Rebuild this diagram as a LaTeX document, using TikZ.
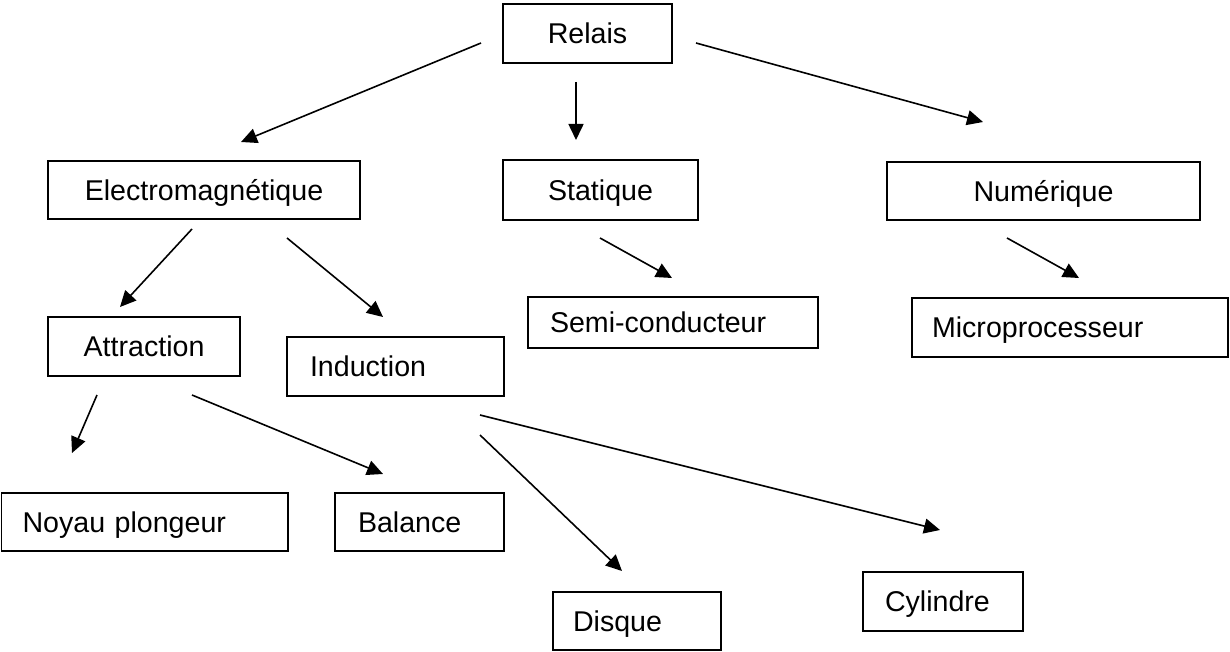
\documentclass[tikz,border=0pt]{standalone}
\usepackage{fontspec}
\setmainfont{Liberation Sans}
\usetikzlibrary{arrows.meta}
\begin{document}
\begin{tikzpicture}[x=1pt,y=-1pt,
  box/.style={draw, line width=1.8pt, inner ysep=0pt, inner xsep=0pt,
    text height=20.5pt, text depth=0pt, align=center,
    font=\fontsize{28.6}{34}\selectfont},
  lbox/.style={box, align=left},
  arr/.style={line width=1.6pt, -{Triangle[length=16pt,width=15pt]}}]
\useasboundingbox (0,0) rectangle (1230,652);

% boxes
\node[box, minimum width=169pt, minimum height=59pt] (relais) at (587.5,33.5) {Relais};
\node[box, minimum width=312pt, minimum height=58pt] (electro) at (204,190) {Electromagnétique};
\node[box, minimum width=195pt, minimum height=60pt] (statique) at (600.5,190) {Statique};
\node[box, minimum width=313pt, minimum height=58pt] (numerique) at (1043.5,191) {Numérique};
\node[box, minimum width=192pt, minimum height=59pt] (attraction) at (144,346.5) {Attraction};
\node[lbox, minimum width=217pt, minimum height=59pt, inner xsep=23pt, text width=171pt] (induction) at (395.5,366.5) {Induction};
\node[lbox, minimum width=290pt, minimum height=51pt, inner xsep=22pt, text width=246pt] (semi) at (673,322.5) {Semi-conducteur};
\node[lbox, minimum width=316pt, minimum height=59pt, inner xsep=20pt, text width=276pt] (micro) at (1070,327.5) {Microprocesseur};
\node[lbox, minimum width=286.5pt, minimum height=58pt, inner xsep=21pt, text width=244.5pt] (noyau) at (144.75,522) {Noyau plongeur};
\node[lbox, minimum width=169pt, minimum height=58pt, inner xsep=23pt, text width=123pt] (balance) at (419.5,522) {Balance};
\node[lbox, minimum width=168pt, minimum height=58pt, inner xsep=20pt, text width=128pt] (disque) at (637,621) {Disque};
\node[lbox, minimum width=160pt, minimum height=59pt, inner xsep=22pt, text width=116pt] (cylindre) at (943,601.5) {Cylindre};

% arrow end points
\coordinate (rl1) at (481,43);   \coordinate (rl2) at (241,142);
\coordinate (rd1) at (576,82);   \coordinate (rd2) at (576,140);
\coordinate (rr1) at (696,43);   \coordinate (rr2) at (983,122);
\coordinate (ea1) at (192,229);  \coordinate (ea2) at (120,307);
\coordinate (ei1) at (287,238);  \coordinate (ei2) at (383,317);
\coordinate (ss1) at (600,238);  \coordinate (ss2) at (672,278);
\coordinate (nm1) at (1007,238); \coordinate (nm2) at (1079,278);
\coordinate (an1) at (97,395);   \coordinate (an2) at (72,453);
\coordinate (ab1) at (192,395);  \coordinate (ab2) at (383,474);
\coordinate (ic1) at (480,415);  \coordinate (ic2) at (940,530);
\coordinate (id1) at (480,435);  \coordinate (id2) at (622,571);

\draw[arr] (rl1) -- (rl2);
\draw[arr] (rd1) -- (rd2);
\draw[arr] (rr1) -- (rr2);
\draw[arr] (ea1) -- (ea2);
\draw[arr] (ei1) -- (ei2);
\draw[arr] (ss1) -- (ss2);
\draw[arr] (nm1) -- (nm2);
\draw[arr] (an1) -- (an2);
\draw[arr] (ab1) -- (ab2);
\draw[arr] (ic1) -- (ic2);
\draw[arr] (id1) -- (id2);
\end{tikzpicture}
\end{document}
